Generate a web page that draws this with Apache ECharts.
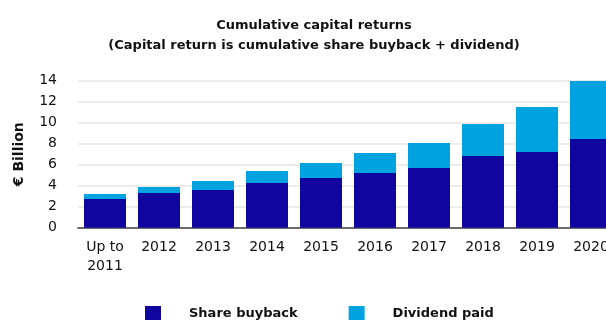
<!DOCTYPE html>
<html>
<head>
<meta charset="utf-8">
<script src="https://cdn.jsdelivr.net/npm/echarts@6/dist/echarts.min.js"></script>
<style>
  html, body { margin: 0; padding: 0; background: #ffffff; overflow: hidden; }
  /* The plot runs slightly past the right edge of the window, so the canvas is wider than the view */
  #chart { width: 620px; height: 320px; }
</style>
</head>
<body>
<div id="chart"></div>
<script>
// Cumulative capital returns, € billion
const categories = ['Up to\n2011', '2012', '2013', '2014', '2015', '2016', '2017', '2018', '2019', '2020'];
const shareBuyback = [2.73, 3.30, 3.59, 4.26, 4.73, 5.21, 5.69, 6.83, 7.21, 8.45];
const dividendPaid = [0.48, 0.58, 0.86, 1.14, 1.43, 1.90, 2.38, 3.05, 4.29, 5.52];
const yTicks = { min: 0, max: 14, interval: 2 };

const FONT = 'DejaVu Sans';
const chart = echarts.init(document.getElementById('chart'), null, { renderer: 'canvas' });

chart.setOption({
  animation: false,
  backgroundColor: '#ffffff',
  title: {
    text: 'Cumulative capital returns\n(Capital return is cumulative share buyback + dividend)',
    left: 309,
    textAlign: 'center',
    top: 11,
    textStyle: { fontFamily: FONT, fontSize: 13, fontWeight: 'bold', color: '#111111', lineHeight: 20 }
  },
  legend: {
    left: 145,
    top: 306,
    padding: 0,
    itemWidth: 16,
    itemHeight: 16,
    itemGap: 51,
    icon: 'rect',
    textStyle: { fontFamily: FONT, fontSize: 13, fontWeight: 'bold', color: '#111111', padding: [0, 0, 0, 23] },
    data: ['Share buyback', 'Dividend paid']
  },
  grid: { left: 78, width: 540, top: 80.7, bottom: 92.3, containLabel: false },
  xAxis: {
    type: 'category',
    data: categories,
    axisLine: { lineStyle: { color: '#6b6b6b', width: 2 } },
    axisTick: { show: false },
    axisLabel: { fontFamily: FONT, fontSize: 14, color: '#111111', margin: 10, lineHeight: 19, interval: 0 }
  },
  yAxis: {
    type: 'value',
    min: yTicks.min,
    max: yTicks.max,
    interval: yTicks.interval,
    name: '€ Billion',
    nameLocation: 'middle',
    nameGap: 52,
    nameTextStyle: { fontFamily: FONT, fontSize: 14, fontWeight: 'bold', color: '#111111' },
    axisLine: { show: false },
    axisTick: { show: false },
    axisLabel: { fontFamily: FONT, fontSize: 14, color: '#111111', margin: 21 },
    splitLine: { lineStyle: { color: '#e6e6e6', width: 1.5 } }
  },
  series: [
    {
      name: 'Share buyback',
      type: 'bar',
      stack: 'total',
      barWidth: 42,
      itemStyle: { color: '#10069f' },
      data: shareBuyback
    },
    {
      name: 'Dividend paid',
      type: 'bar',
      stack: 'total',
      barWidth: 42,
      itemStyle: { color: '#00a3e0' },
      data: dividendPaid
    }
  ]
});
</script>
</body>
</html>
